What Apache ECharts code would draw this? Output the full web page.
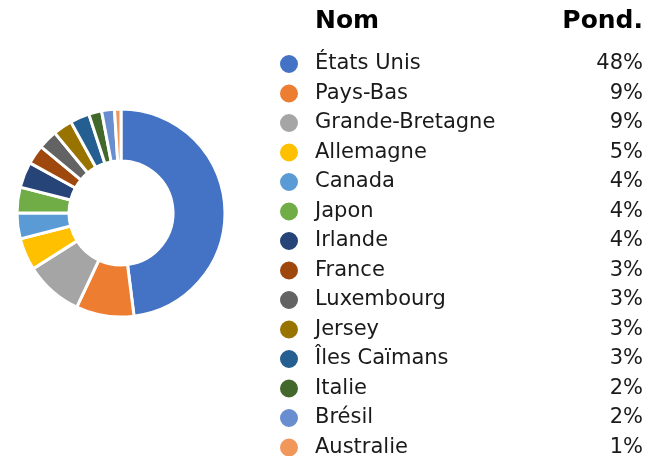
<!DOCTYPE html>
<html>
<head>
<meta charset="utf-8">
<script src="https://cdn.jsdelivr.net/npm/echarts@6/dist/echarts.min.js"></script>
<style>
  html, body { margin: 0; padding: 0; background: #fff; }
  #chart { width: 661px; height: 456px; }
</style>
</head>
<body>
<div id="chart"></div>
<script>
const countries = ['États Unis', 'Pays-Bas', 'Grande-Bretagne', 'Allemagne', 'Canada', 'Japon', 'Irlande', 'France', 'Luxembourg', 'Jersey', 'Îles Caïmans', 'Italie', 'Brésil', 'Australie']
const weights = [48, 9, 9, 5, 4, 4, 4, 3, 3, 3, 3, 2, 2, 1]
const colors = ['#4472C4', '#ED7D31', '#A5A5A5', '#FFC000', '#5B9BD5', '#70AD47', '#264478', '#9E480E', '#636363', '#997300', '#255E91', '#43682B', '#698ED0', '#F1975A']

const font = 'DejaVu Sans'

const myChart = echarts.init(document.getElementById('chart'))
myChart.setOption({
  animation: false,
  color: colors,
  title: [
    {
      text: 'Nom',
      left: 310,
      top: 4,
      textStyle: { fontFamily: font, fontWeight: 'bold', fontSize: 25, color: '#000' }
    },
    {
      text: 'Pond.',
      right: 13,
      top: 4,
      textStyle: { fontFamily: font, fontWeight: 'bold', fontSize: 25, color: '#000' }
    }
  ],
  legend: {
    orient: 'vertical',
    left: 273,
    top: 48,
    height: 420,
    icon: 'circle',
    itemWidth: 20,
    itemHeight: 20,
    itemGap: 7.5,
    selectedMode: false,
    data: countries,
    formatter: name => {
      const i = countries.indexOf(name)
      return '{n|' + name + '}{v|' + weights[i] + '%}'
    },
    textStyle: {
      fontFamily: font,
      fontSize: 21,
      color: '#1a1a1a',
      rich: {
        n: { fontFamily: font, fontSize: 21, width: 268, padding: [0, 0, 0, 11], lineHeight: 20 },
        v: { fontFamily: font, fontSize: 21, width: 60, align: 'right', lineHeight: 20 }
      }
    }
  },
  series: [
    {
      name: 'Pond.',
      type: 'pie',
      center: [121, 213],
      radius: [52, 104],
      startAngle: 90,
      clockwise: true,
      label: { show: false },
      labelLine: { show: false },
      itemStyle: { borderColor: '#fff', borderWidth: 3 },
      data: countries.map((c, i) => ({ name: c, value: weights[i] }))
    }
  ]
})
</script>
</body>
</html>
